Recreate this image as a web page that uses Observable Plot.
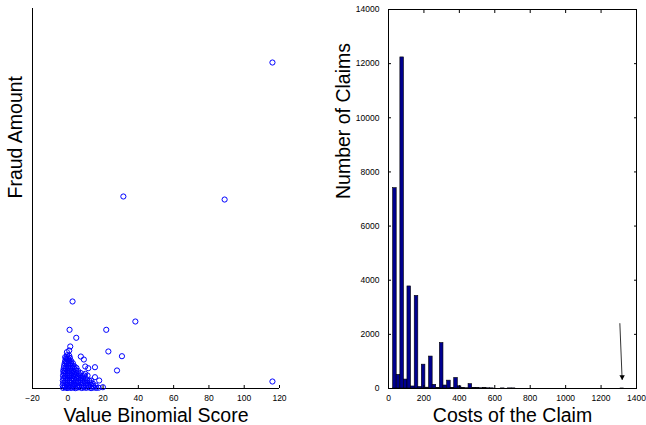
<!DOCTYPE html>
<html><head><meta charset="utf-8">
<script src="https://cdn.jsdelivr.net/npm/d3@7"></script>
<script src="https://cdn.jsdelivr.net/npm/@observablehq/plot@0.6"></script>
<style>
body{margin:0;background:#fff;}
#wrap{position:relative;width:646px;height:425px;overflow:hidden;background:#fff;}
#left{position:absolute;left:0;top:0;}
#right{position:absolute;left:320px;top:0;}
</style></head><body><div id="wrap"><div id="left"></div><div id="right"></div></div>
<script>
// ---- Left panel data: Value Binomial Score vs Fraud Amount ----
const scoreTicks = [-20, 0, 20, 40, 60, 80, 100, 120];
const clusterPoints = [
  [-2.7,12],[-1.6,20],[-0.4,8],[0.7,18],[1.9,10],[3.1,22],[4.2,6],[5.5,16],[6.6,24],[7.9,9],[9.1,19],[10.4,12],[11.8,21],[13.2,7],[14.6,17],[16.1,11],[17.5,14],
  [-2.9,58],[-1.8,50],[-0.6,64],[0.5,47],[1.6,60],[2.9,52],[4.0,66],[5.2,49],[6.4,57],[7.7,63],[8.9,45],[10.2,59],[11.5,54],[12.9,67],[14.4,48],[15.8,56],
  [-2.6,98],[-1.4,106],[-0.2,94],[1.0,110],[2.2,101],[3.5,92],[4.7,108],[5.9,99],[7.2,112],[8.5,95],[9.8,104],[11.2,97],[12.6,109],[14.1,93],
  [-2.8,147],[-1.5,139],[-0.3,152],[0.9,143],[2.0,156],[3.3,141],[4.5,149],[5.8,137],[7.0,154],[8.3,146],[9.6,140],[11.0,151],[12.3,144],
  [-2.5,188],[-1.3,196],[-0.1,184],[1.1,199],[2.4,191],[3.6,182],[4.9,194],[6.1,187],[7.4,198],[8.7,185],[10.1,192],
  [-2.7,236],[-1.6,229],[-0.4,242],[0.8,233],[2.0,239],[3.2,227],[4.4,244],[5.7,231],[6.9,238],[8.2,230],[9.3,241],
  [-2.4,281],[-1.2,274],[0.0,288],[1.3,277],[2.5,285],[3.7,272],[4.9,283],[6.2,276],[7.3,286],
  [-2.6,326],[-1.4,319],[-0.2,331],[1.0,322],[2.2,329],[3.4,317],[4.6,333],[5.8,324],
  [-2.3,372],[-1.0,365],[0.2,377],[1.4,368],[2.6,374],[3.9,362],[4.9,379],
  [-2.1,417],[-0.9,410],[0.4,421],[1.6,413],[2.8,419],[3.8,408],
  [-1.8,462],[-0.6,455],[0.6,467],[1.7,458],[2.9,464],
  [-1.5,507],[-0.3,500],[0.9,511],[2.0,503],
  [-1.0,558],[0.3,551],[1.2,564],
  [-0.4,612],[0.8,604]
];
const outlierPoints = [
  [116.0,6005],[31.5,3537],[88.9,3481],[2.7,1603],[38.3,1234],[1.0,1081],[21.8,1081],
  [4.8,934],[1.4,774],[0.8,700],[-0.5,669],[23.0,682],[30.7,595],[7.4,589],[9.1,534],
  [-0.5,547],[-1.5,577],[-1.1,484],[1.8,466],[9.9,405],[11.6,374],[15.4,392],[27.9,332],
  [-1.9,319],[15.4,208],[17.8,147],[11.2,239],[19.9,24],[116.0,129],[13.3,147],[9.9,271]
];

// ---- Right panel data: histogram of claim costs ----
const costTicks = [0, 200, 400, 600, 800, 1000, 1200, 1400];
const claimTicks = [0, 2000, 4000, 6000, 8000, 10000, 12000, 14000];
const binWidth = 20.3;
const binStart = [26,46,67,87,107,128,148,168,188,209,229,249,270,290,310,331,351,371,391,412,432,452,473,493,513,533,554,574,635,675,696,1310];
const claimCounts = [7400,506,12230,330,3770,75,3420,55,880,30,1180,135,20,1680,110,290,25,390,80,15,10,160,25,15,10,12,8,6,4,5,4,1];
const arrowStart = [1306, 2412];
const arrowEnd = [1319, 321];

const font = '"Liberation Sans", Arial, Helvetica, sans-serif';
const baseStyle = {fontFamily: font, fontSize: "8.5px", color: "#000", background: "transparent", overflow: "visible"};

const points = clusterPoints.concat(outlierPoints).map(([s, f]) => ({score: s, fraud: f}));

const left = Plot.plot({
  width: 320, height: 425,
  marginLeft: 32, marginRight: 41, marginTop: 8, marginBottom: 37,
  x: {domain: [-20, 120]},
  y: {domain: [0, 7000], axis: null},
  style: baseStyle,
  marks: [
    Plot.ruleY([0], {stroke: "#000", strokeWidth: 1}),
    Plot.ruleX([-20], {stroke: "#000", strokeWidth: 1}),
    Plot.axisX({ticks: scoreTicks, tickSize: -3, tickPadding: 9, tickFormat: "d", label: null}),
    Plot.dot(points, {x: "score", y: "fraud", r: 2.6, stroke: "#0000ff", strokeWidth: 1, fill: "none"}),
    Plot.text(["Fraud Amount"], {frameAnchor: "left", rotate: -90, dx: -17, fontSize: 19.5}),
    Plot.text(["Value Binomial Score"], {frameAnchor: "bottom", lineAnchor: "bottom", dy: 33, fontSize: 19.5})
  ]
});
document.getElementById("left").appendChild(left);

const bins = binStart.map((s, i) => ({x1: s, x2: s + binWidth, count: claimCounts[i]}));

const right = Plot.plot({
  width: 326, height: 425,
  marginLeft: 68, marginRight: 10, marginTop: 9, marginBottom: 37,
  x: {domain: [0, 1400]},
  y: {domain: [0, 14000]},
  style: baseStyle,
  marks: [
    Plot.rect(bins, {x1: "x1", x2: "x2", y1: 0, y2: "count", fill: "#00008f", stroke: "#000", strokeWidth: 0.6}),
    Plot.frame({stroke: "#000", strokeWidth: 1}),
    Plot.axisX({ticks: costTicks, tickSize: -3, tickPadding: 9, tickFormat: "d", label: null}),
    Plot.axisX({anchor: "top", ticks: costTicks, tickSize: -3, tickFormat: () => "", label: null}),
    Plot.axisY({ticks: claimTicks, tickSize: -3, tickPadding: 12, tickFormat: "d", label: null}),
    Plot.axisY({anchor: "right", ticks: claimTicks, tickSize: -3, tickFormat: () => "", label: null}),
    Plot.link([{a: arrowStart, b: arrowEnd}], {x1: d => d.a[0], y1: d => d.a[1], x2: d => d.b[0], y2: d => d.b[1], stroke: "#000", strokeWidth: 0.8}),
    Plot.dot([arrowEnd], {x: d => d[0], y: d => d[1], symbol: "triangle", rotate: 178, r: 2, fill: "#000", stroke: "none", dy: -3}),
    Plot.text(["Number of Claims"], {frameAnchor: "left", rotate: -90, dx: -45, fontSize: 19.5}),
    Plot.text(["Costs of the Claim"], {frameAnchor: "bottom", lineAnchor: "bottom", dy: 33, fontSize: 19.5})
  ]
});
document.getElementById("right").appendChild(right);
</script>
</body></html>
